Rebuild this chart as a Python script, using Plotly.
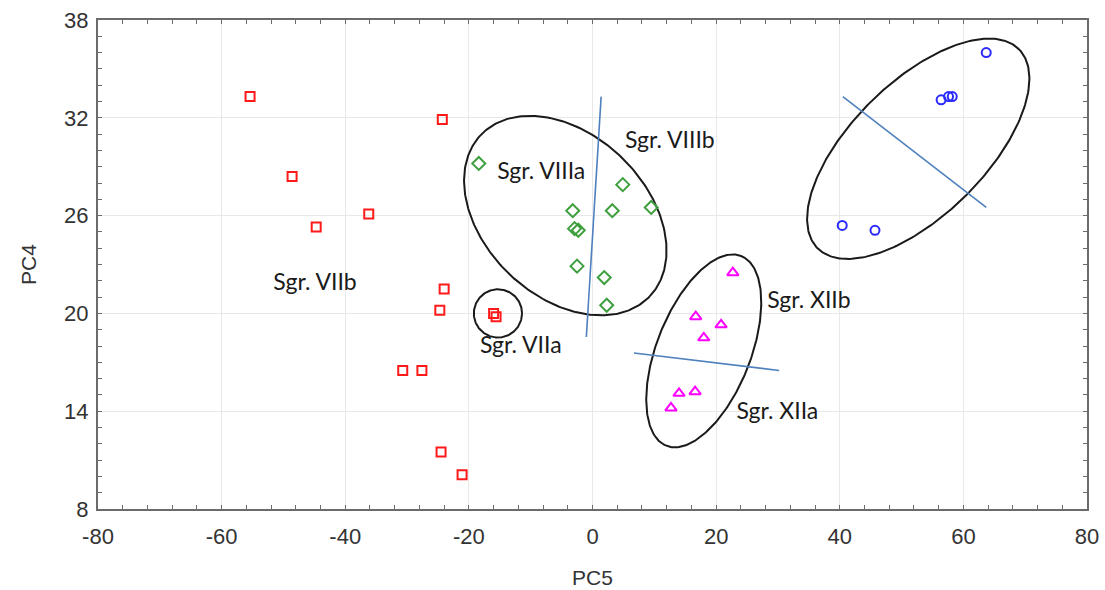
import numpy as np
import plotly.graph_objects as go

# ---- data ----
red_x = [-55.4, -48.6, -44.7, -36.2, -24.3, -24.0, -24.7, -16.0, -15.6, -30.7, -27.6, -24.5, -21.1]
red_y = [33.3, 28.4, 25.3, 26.1, 31.9, 21.5, 20.2, 20.0, 19.8, 16.5, 16.5, 11.5, 10.1]

green_x = [-18.4, 4.9, -3.2, 3.2, 9.5, -2.9, -2.3, -2.5, 1.9, 2.3]
green_y = [29.2, 27.9, 26.3, 26.3, 26.5, 25.2, 25.1, 22.9, 22.2, 20.5]

mag_x = [22.7, 16.7, 20.8, 18.0, 14.0, 16.6, 12.7]
mag_y = [22.5, 19.8, 19.3, 18.5, 15.1, 15.2, 14.2]

blue_x = [63.7, 56.4, 57.6, 58.2, 40.4, 45.7]
blue_y = [36.0, 33.1, 33.3, 33.3, 25.4, 25.1]

# ellipses: center x, center y, semi-major (x units), semi-minor (x units), angle (screen deg)
ellipses = [
    (-4.4, 26.0, 18.9, 13.1, -43.8),
    (-15.3, 20.0, 3.9, 3.9, 0.0),
    (18.0, 17.7, 16.5, 7.6, 68.5),
    (52.7, 30.1, 22.9, 10.8, 44.6),
]

# separating lines: x1, y1, x2, y2
seg_lines = [
    (1.4, 33.3, -1.0, 18.55),
    (6.7, 17.57, 30.2, 16.5),
    (40.5, 33.3, 63.7, 26.5),
]

label_text = ["Sgr. VIIb", "Sgr. VIIIa", "Sgr. VIIIb", "Sgr. VIIa", "Sgr. XIIb", "Sgr. XIIa"]
label_x = [-44.9, -8.3, 12.5, -11.6, 35.0, 29.9]
label_y = [21.8, 28.6, 30.5, 17.9, 20.7, 13.9]

x_ticks = [-80, -60, -40, -20, 0, 20, 40, 60, 80]
x_ticktext = ["-80", "-60", "-40", "-20", "0", "20", "40", "60", "80"]
y_ticks = [8, 14, 20, 26, 32, 38]
y_ticktext = ["8", "14", "20", "26", "32", "38"]

x_range = [-80, 80]
y_range = [8, 38]

# ---- layout geometry ----
W, H = 1105, 590
ML, MR, MT, MB = 98, 18, 20, 81
px_per_x = (W - ML - MR) / (x_range[1] - x_range[0])
px_per_y = (H - MT - MB) / (y_range[1] - y_range[0])
k = px_per_y / px_per_x

fig = go.Figure()

t = np.linspace(0, 2 * np.pi, 300)
for cx, cy, a, b, ang in ellipses:
    th = np.deg2rad(ang)
    u = a * np.cos(t) * np.cos(th) - b * np.sin(t) * np.sin(th)
    v = a * np.cos(t) * np.sin(th) + b * np.sin(t) * np.cos(th)
    fig.add_trace(go.Scatter(x=cx + u, y=cy + v / k, mode="lines",
                             line=dict(color="#1a1a1a", width=2), hoverinfo="skip"))

for x1, y1, x2, y2 in seg_lines:
    fig.add_trace(go.Scatter(x=[x1, x2], y=[y1, y2], mode="lines",
                             line=dict(color="#4f81bd", width=1.6), hoverinfo="skip"))

fig.add_trace(go.Scatter(x=red_x, y=red_y, mode="markers",
                         marker=dict(symbol="square-open", color="#ff1a1a", size=9, line=dict(width=2))))
fig.add_trace(go.Scatter(x=green_x, y=green_y, mode="markers",
                         marker=dict(symbol="diamond-open", color="#3f9f3f", size=10, line=dict(width=2))))
fig.add_trace(go.Scatter(x=mag_x, y=mag_y, mode="markers",
                         marker=dict(symbol="triangle-up-open", color="#ff00ff", size=10, line=dict(width=2))))
fig.add_trace(go.Scatter(x=blue_x, y=blue_y, mode="markers",
                         marker=dict(symbol="circle-open", color="#2a2aff", size=9, line=dict(width=2))))

fig.add_trace(go.Scatter(x=label_x, y=label_y, mode="text", text=label_text,
                         textfont=dict(family="Lato, Open Sans, sans-serif", size=23, color="#1a1a1a"),
                         textposition="middle center", hoverinfo="skip"))

axis_common = dict(
    showline=True, linecolor="#6b6b6b", linewidth=2, mirror="allticks",
    ticks="inside", ticklen=4, tickcolor="#6b6b6b", tickwidth=1,
    showgrid=True, gridcolor="#e8e8e8", gridwidth=1, zeroline=False, automargin=False,
    tickfont=dict(family="Liberation Sans, Arial, sans-serif", size=22, color="#333333"),
    title_font=dict(family="Liberation Sans, Arial, sans-serif", size=21, color="#333333"),
)

fig.update_xaxes(range=x_range, tickmode="array", tickvals=x_ticks, ticktext=x_ticktext,
                 ticklabelstandoff=7, title_text="PC5", title_standoff=22,
                 minor=dict(dtick=4, tick0=-80, ticks="inside", ticklen=4, tickcolor="#6b6b6b", showgrid=False),
                 **axis_common)
fig.update_yaxes(range=y_range, tickmode="array", tickvals=y_ticks, ticktext=y_ticktext,
                 ticklabelstandoff=3, title_text="PC4", title_standoff=22,
                 minor=dict(dtick=1, tick0=8, ticks="inside", ticklen=4, tickcolor="#6b6b6b", showgrid=False),
                 **axis_common)

fig.update_layout(
    width=W, height=H, showlegend=False,
    margin=dict(l=ML, r=MR, t=MT, b=MB),
    plot_bgcolor="white", paper_bgcolor="white",
)

fig.write_html("out.html")
